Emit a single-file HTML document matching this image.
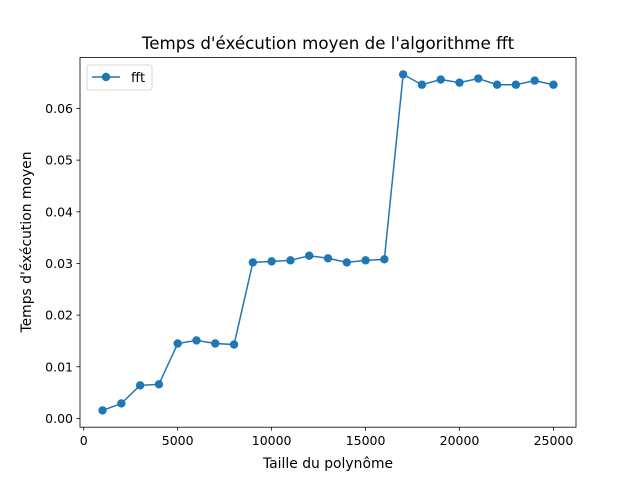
<!DOCTYPE html>
<html><head><meta charset="utf-8"><style>body{margin:0;background:#fff}svg{display:block;font-family:"DejaVu Sans","Liberation Sans",sans-serif}</style></head>
<body>
<svg id="chart" width="640" height="480" xmlns="http://www.w3.org/2000/svg">
<rect width="640" height="480" fill="#fff"/>
<text x="328" y="49" font-size="16.7" text-anchor="middle">Temps d'éxécution moyen de l'algorithme fft</text>
<text x="328" y="468" font-size="13.9" text-anchor="middle">Taille du polynôme</text>
<text transform="translate(31,242) rotate(-90)" font-size="13.9" text-anchor="middle">Temps d'éxécution moyen</text>
<g id="plot"></g>
</svg>
<script>
const xValues=[1000,2000,3000,4000,5000,6000,7000,8000,9000,10000,11000,12000,13000,14000,15000,16000,17000,18000,19000,20000,21000,22000,23000,24000,25000];
const yValues=[0.00155,0.0029,0.0064,0.0066,0.0145,0.0151,0.0145,0.0143,0.0302,0.0304,0.0306,0.0315,0.0310,0.0302,0.0306,0.0308,0.0666,0.0646,0.0656,0.0650,0.0658,0.0646,0.0646,0.0654,0.0646];
const xTicks=[0,5000,10000,15000,20000,25000];
const yTicks=[0,0.01,0.02,0.03,0.04,0.05,0.06];
const yTickLabels=["0.00","0.01","0.02","0.03","0.04","0.05","0.06"];
const L=80,R=576,T=57.6,B=427.2;
const xmin0=Math.min(...xValues),xmax0=Math.max(...xValues),ymin0=Math.min(...yValues),ymax0=Math.max(...yValues);
const xmin=xmin0-(xmax0-xmin0)*0.05,xmax=xmax0+(xmax0-xmin0)*0.05;
const ymin=ymin0-(ymax0-ymin0)*0.05,ymax=ymax0+(ymax0-ymin0)*0.05;
const sx=v=>L+(v-xmin)/(xmax-xmin)*(R-L);
const sy=v=>B-(v-ymin)/(ymax-ymin)*(B-T);
const NS="http://www.w3.org/2000/svg",g=document.getElementById('plot');
function mk(t,a,p){const e=document.createElementNS(NS,t);for(const k in a)e.setAttribute(k,a[k]);(p||g).appendChild(e);return e;}
xTicks.forEach(v=>{const x=sx(v);
const l=mk('line',{x1:x,x2:x,y1:B,y2:B+3.5,stroke:'#000','stroke-width':0.8});


const t=mk('text',{x:x,y:B+18,'font-size':12.5,'text-anchor':'middle'});t.textContent=v;

});
yTicks.forEach((v,i)=>{const y=sy(v);
const l=mk('line',{x1:L-3.5,x2:L,y1:y,y2:y,stroke:'#000','stroke-width':0.8});


const t=mk('text',{x:L-7,y:y+4.5,'font-size':12.5,'text-anchor':'end'});t.textContent=yTickLabels[i];

});
const pl=mk('polyline',{points:xValues.map((x,i)=>sx(x)+','+sy(yValues[i])).join(' '),fill:'none',stroke:'#1f77b4','stroke-width':1.5});


xValues.forEach((x,i)=>{const c=mk('circle',{cx:sx(x),cy:sy(yValues[i]),r:4.2,fill:'#1f77b4'});

});
const fr=mk('rect',{x:L,y:T,width:R-L,height:B-T,fill:'none',stroke:'#000','stroke-width':0.8});


const lg=mk('g',{});


mk('rect',{x:87,y:65,width:65,height:25,rx:2,fill:'#fff','fill-opacity':0.8,stroke:'#ccc','stroke-width':0.8},lg);
mk('line',{x1:92,x2:120,y1:77,y2:77,stroke:'#1f77b4','stroke-width':1.5},lg);
mk('circle',{cx:106,cy:77,r:4.2,fill:'#1f77b4'},lg);
const lt=mk('text',{x:131,y:82,'font-size':13},lg);lt.textContent='fft';


</script>
</body></html>
